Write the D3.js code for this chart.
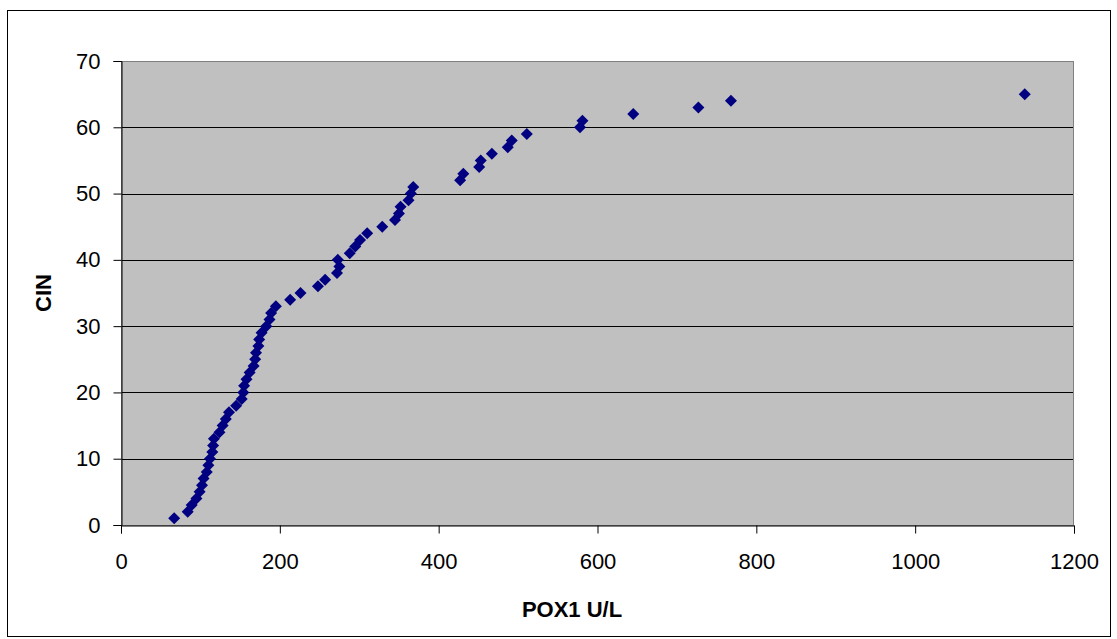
<!DOCTYPE html>
<html><head><meta charset="utf-8">
<script src="https://cdn.jsdelivr.net/npm/d3@7"></script>
<style>html,body{margin:0;padding:0;background:#fff;}svg{display:block;}</style>
</head><body>
<svg id="chart" width="1117" height="639"></svg>
<script>
const cinValues = [1,2,3,4,5,6,7,8,9,10,11,12,13,14,15,16,17,18,19,20,21,22,23,24,25,26,27,28,29,30,31,32,33,34,35,36,37,38,39,40,41,42,43,44,45,46,47,48,49,50,51,52,53,54,55,56,57,58,59,60,61,62,63,64,65];
const pox1Values = [67,84,89,95,99,102,104,108,110,112,115,116,117,124,128,132,136,145,152,154,155,158,162,167,169,170,173,174,177,183,187,189,195,213,226,248,257,272,275,273,288,295,301,310,329,345,350,352,362,365,368,427,431,451,453,467,487,492,511,578,581,645,727,768,1138];
const xTicks = [0,200,400,600,800,1000,1200];
const yTicks = [0,10,20,30,40,50,60,70];
const xTitle = "POX1 U/L";
const yTitle = "CIN";

const svg = d3.select("#chart");
const pLeft = 121, pRight = 1074, pTop = 61, pBottom = 525;
const x = d3.scaleLinear().domain([0,1200]).range([pLeft,pRight]);
const y = d3.scaleLinear().domain([0,70]).range([pBottom,pTop]);
const font = "Arial, 'Liberation Sans', sans-serif";

// outer border
svg.append("rect").attr("x",7.5).attr("y",10.5).attr("width",1103).attr("height",626)
  .attr("fill","#fff").attr("stroke","#000").attr("stroke-width",1);

// plot area
svg.append("rect").attr("x",pLeft).attr("y",pTop).attr("width",pRight-pLeft).attr("height",pBottom-pTop)
  .attr("fill","#c0c0c0");

// gridlines
svg.append("g").selectAll("line").data(yTicks.filter(t=>t>0 && t<70)).join("line")
  .attr("x1",pLeft).attr("x2",pRight)
  .attr("y1",d=>Math.round(y(d))+0.5).attr("y2",d=>Math.round(y(d))+0.5)
  .attr("stroke","#000").attr("stroke-width",1);

// plot border (gray)
svg.append("rect").attr("x",pLeft+0.5).attr("y",pTop+0.5).attr("width",pRight-pLeft-1).attr("height",pBottom-pTop)
  .attr("fill","none").attr("stroke","#808080").attr("stroke-width",1);

// axes
const xAxis = d3.axisBottom(x).tickValues(xTicks).tickSize(8).tickPadding(20).tickFormat(d3.format("d"));
const yAxis = d3.axisLeft(y).tickValues(yTicks).tickSize(8).tickPadding(13).tickFormat(d3.format("d"));
const gx = svg.append("g").attr("transform",`translate(0,${pBottom+0.5})`).call(xAxis);
const gy = svg.append("g").attr("transform",`translate(${pLeft+0.5},0)`).call(yAxis);
[gx,gy].forEach(g=>{
  g.selectAll("path.domain").attr("stroke","#000");
  g.selectAll(".tick line").attr("stroke","#000");
  g.selectAll("text").attr("font-family",font).attr("font-size","22px").attr("fill","#000");
});

// points
const sym = d3.symbol().type(d3.symbolSquare).size(72);
svg.append("g").selectAll("path").data(d3.zip(pox1Values, cinValues)).join("path")
  .attr("d", sym)
  .attr("transform", d=>`translate(${x(d[0])},${y(d[1])}) rotate(45)`)
  .attr("fill","#000080");

// titles
svg.append("text").attr("x",572).attr("y",617).attr("text-anchor","middle")
  .attr("font-family",font).attr("font-size","22px").attr("font-weight","bold")
  .text(xTitle);
svg.append("text").attr("transform",`translate(51,${(pTop+pBottom)/2}) rotate(-90)`).attr("text-anchor","middle")
  .attr("font-family",font).attr("font-size","22px").attr("font-weight","bold")
  .text(yTitle);
</script>
</body></html>
